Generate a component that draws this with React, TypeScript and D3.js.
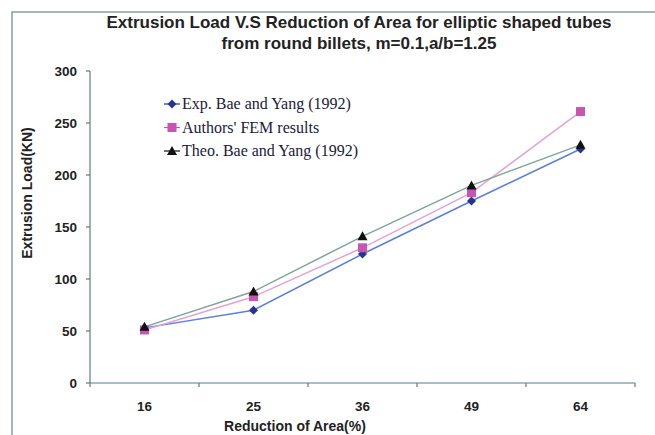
import React from "react";
import * as d3 from "d3";

const categories = ["16", "25", "36", "49", "64"];
const expBae = [53, 70, 124, 175, 225];
const femAuthors = [51, 83, 130, 183, 261];
const theoBae = [54, 88, 141, 190, 229];
const yTicks = [0, 50, 100, 150, 200, 250, 300];
const seriesNames = ["Exp. Bae and Yang (1992)", "Authors' FEM results", "Theo. Bae and Yang (1992)"];

const W = 655, H = 435;
const left = 90, right = 635, top = 71, bottom = 383;

export default function App() {
  const x = d3.scaleBand<string>().domain(categories).range([left, right]).padding(0);
  const y = d3.scaleLinear().domain([0, 300]).range([bottom, top]);
  const cx = (c: string) => (x(c) as number) + x.bandwidth() / 2;
  const line = d3.line<[string, number]>().x(d => cx(d[0])).y(d => y(d[1]));
  const zip = (arr: number[]) => categories.map((c, i) => [c, arr[i]] as [string, number]);

  const series = [
    { name: seriesNames[0], data: expBae, line: "#5a7fe0", marker: "#26348f", shape: "diamond" },
    { name: seriesNames[1], data: femAuthors, line: "#e6a2d6", marker: "#c855b4", shape: "square" },
    { name: seriesNames[2], data: theoBae, line: "#7fa59a", marker: "#111111", shape: "triangle" },
  ];

  const marker = (shape: string, px: number, py: number, color: string, key: string) => {
    if (shape === "diamond") {
      const s = 4.5;
      return <path key={key} d={`M${px},${py - s}L${px + s},${py}L${px},${py + s}L${px - s},${py}Z`} fill={color} />;
    }
    if (shape === "square") {
      const s = 4.5;
      return <rect key={key} x={px - s} y={py - s} width={2 * s} height={2 * s} fill={color} />;
    }
    const s = 5;
    return <path key={key} d={`M${px},${py - s}L${px + s},${py + s - 1}L${px - s},${py + s - 1}Z`} fill={color} />;
  };

  const axisColor = "#5b7c84";
  const font = "Liberation Sans, Arial, sans-serif";
  const boundaries = [...categories.map(c => x(c) as number), right];

  return (
    <svg width={W} height={H} style={{ position: "absolute", left: 0, top: 0, background: "#fff" }}>
      <rect x={0} y={0} width={W} height={H} fill="#fff" />
      {/* frame */}
      <path d={`M12,${H}V12H${W}`} fill="none" stroke="#8a9c9e" strokeWidth={1.5} />
      {/* title */}
      <g fontFamily={font} fontWeight="bold" fontSize={17} fill="#222" textAnchor="middle">
        <text x={359} y={28}>Extrusion Load V.S Reduction of Area for elliptic shaped tubes</text>
        <text x={359} y={49}>from round billets, m=0.1,a/b=1.25</text>
      </g>
      {/* axes */}
      <line x1={left} y1={top} x2={left} y2={bottom} stroke={axisColor} strokeWidth={1.2} />
      <line x1={left} y1={bottom} x2={right} y2={bottom} stroke={axisColor} strokeWidth={1.2} />
      {yTicks.map(t => (
        <g key={t}>
          <line x1={left - 4} x2={left} y1={y(t)} y2={y(t)} stroke={axisColor} strokeWidth={1.2} />
          <text x={77} y={y(t) + 4.5} textAnchor="end" fontFamily={font} fontWeight="bold" fontSize={13.5} fill="#222">{t}</text>
        </g>
      ))}
      {boundaries.map((b, i) => (
        <line key={i} x1={b} x2={b} y1={bottom} y2={bottom + 4} stroke={axisColor} strokeWidth={1.2} />
      ))}
      {categories.map(c => (
        <text key={c} x={cx(c)} y={411} textAnchor="middle" fontFamily={font} fontWeight="bold" fontSize={13.5} fill="#222">{c}</text>
      ))}
      <text x={295} y={431} textAnchor="middle" fontFamily={font} fontWeight="bold" fontSize={14} fill="#222">Reduction of Area(%)</text>
      <text transform={`translate(32,193) rotate(-90)`} textAnchor="middle" fontFamily={font} fontWeight="bold" fontSize={14} fill="#222">Extrusion Load(KN)</text>
      {/* lines */}
      {series.map((s, i) => (
        <path key={i} d={line(zip(s.data)) as string} fill="none" stroke={s.line} strokeWidth={1.5} />
      ))}
      {series.map((s, i) => (
        <g key={i}>{categories.map((c, j) => marker(s.shape, cx(c), y(s.data[j]), s.marker, `${i}-${j}`))}</g>
      ))}
      {/* legend */}
      {series.map((s, i) => {
        const ly = 104 + i * 23.5;
        return (
          <g key={i}>
            <line x1={164} x2={180} y1={ly} y2={ly} stroke={s.marker} strokeWidth={1.2} />
            {marker(s.shape, 172, ly, s.marker, `l${i}`)}
            <text x={182} y={ly + 5} fontFamily="Liberation Serif, Times New Roman, serif" fontSize={16} fill="#1a1a3a">{s.name}</text>
          </g>
        );
      })}
    </svg>
  );
}
